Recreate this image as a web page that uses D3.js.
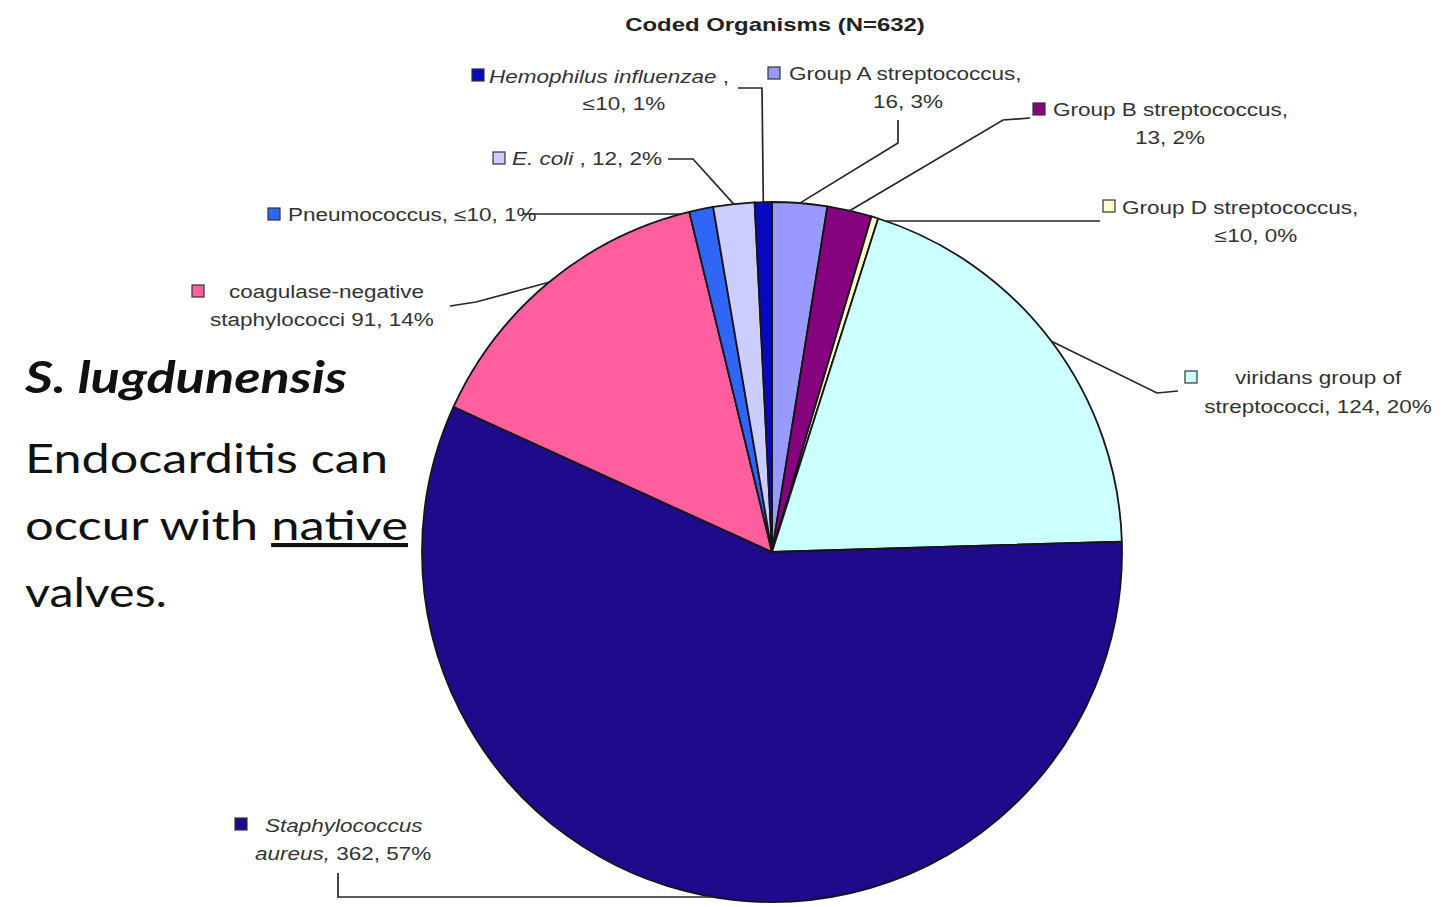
<!DOCTYPE html>
<html>
<head>
<meta charset="utf-8">
<script src="https://cdn.jsdelivr.net/npm/d3@7"></script>
<style>
  body { margin: 0; background: #fff; }
  svg { display: block; }
</style>
</head>
<body>
<svg id="chart" width="1448" height="907"></svg>
<script>
// Organism groups, clockwise from 12 o'clock
const organisms = [
  "Group A streptococcus", "Group B streptococcus", "Group D streptococcus",
  "viridans group of streptococci", "Staphylococcus aureus",
  "coagulase-negative staphylococci", "Pneumococcus", "E. coli",
  "Hemophilus influenzae"
];
const counts = [16, 13, 2, 124, 362, 91, 7, 12, 5];
const countLabels = ["16", "13", "≤10", "124", "362", "91", "≤10", "12", "≤10"];
const sliceColors = [
  "#9999ff", "#86037f", "#ffffcc", "#ccffff", "#1f0a8c",
  "#ff5f9e", "#2f66f5", "#ccccff", "#0808c0"
];
const totalN = 632;

const W = 1448, H = 907;
const cx = 772, cy = 552, R = 350;
const SX = 1.25;           // horizontal stretch of label text
const labelFont = "'Liberation Sans', Arial, sans-serif";

const svg = d3.select("#chart");
svg.append("rect").attr("width", W).attr("height", H).attr("fill", "#fff");

const data = organisms.map((name, i) => ({
  name, count: counts[i], countLabel: countLabels[i], color: sliceColors[i],
  pct: Math.round(counts[i] / totalN * 100) + "%"
}));

const pie = d3.pie().sort(null).value(d => d.count)
  .startAngle(0).endAngle(2 * Math.PI);
const arcs = pie(data);
const arc = d3.arc().innerRadius(0).outerRadius(R);

const pieG = svg.append("g").attr("transform", `translate(${cx},${cy})`);
pieG.selectAll("path").data(arcs).join("path")
  .attr("d", arc)
  .attr("fill", d => d.data.color)
  .attr("stroke", "#151515")
  .attr("stroke-width", 1.8)
  .attr("stroke-linejoin", "round");

// point on the rim at the middle of a slice
function rimPoint(a) {
  const m = (a.startAngle + a.endAngle) / 2;
  return [cx + R * Math.sin(m), cy - R * Math.cos(m)];
}
// point on the rim at a given height, on the side of the slice middle
function rimAtY(a, y) {
  const m = (a.startAngle + a.endAngle) / 2;
  const dx = Math.sqrt(R * R - (y - cy) * (y - cy));
  return [cx + (Math.sin(m) < 0 ? -dx : dx), y];
}

// Label layout: marker, text lines (with italic runs) and leader elbows
const labelLayout = [
  { marker: [768, 67], lines: [
      { x: 789, y: 80, anchor: "start", parts: [["Group A streptococcus,"]] },
      { x: 908, y: 108, anchor: "middle", parts: [["{n}, {p}"]] } ],
    leader: [[898, 120], [898, 143]] },
  { marker: [1033, 103], lines: [
      { x: 1053, y: 116, anchor: "start", parts: [["Group B streptococcus,"]] },
      { x: 1170, y: 144, anchor: "middle", parts: [["{n}, {p}"]] } ],
    leader: [[1030, 118], [1003, 120]] },
  { marker: [1103, 200], lines: [
      { x: 1122, y: 214, anchor: "start", parts: [["Group D streptococcus,"]] },
      { x: 1256, y: 242, anchor: "middle", parts: [["{n}, {p}"]] } ],
    leader: [[1100, 221]], flatY: 221 },
  { marker: [1185, 371], lines: [
      { x: 1235, y: 384, anchor: "start", parts: [["viridans group of"]] },
      { x: 1318, y: 413, anchor: "middle", parts: [["streptococci, {n}, {p}"]] } ],
    leader: [[1178, 391], [1157, 393]] },
  { marker: [235, 818], lines: [
      { x: 265, y: 832, anchor: "start", parts: [["Staphylococcus", true]] },
      { x: 255, y: 860, anchor: "start", parts: [["aureus,", true], [" {n}, {p}"]] } ],
    leader: [[338, 873], [338, 897]], flatY: 897 },
  { marker: [192, 285], lines: [
      { x: 229, y: 298, anchor: "start", parts: [["coagulase-negative"]] },
      { x: 210, y: 326, anchor: "start", parts: [["staphylococci  {n}, {p}"]] } ],
    leader: [[450, 306], [476, 302]] },
  { marker: [268, 208], lines: [
      { x: 288, y: 221, anchor: "start", parts: [["Pneumococcus, {n}, {p}"]] } ],
    leader: [[522, 214]], flatY: 214 },
  { marker: [493, 152], lines: [
      { x: 512, y: 165, anchor: "start", parts: [["E. coli", true], [" , {n}, {p}"]] } ],
    leader: [[668, 159], [693, 159]] },
  { marker: [472, 69], lines: [
      { x: 489, y: 83, anchor: "start", parts: [["Hemophilus influenzae", true], [" ,"]] },
      { x: 624, y: 110, anchor: "middle", parts: [["{n}, {p}"]] } ],
    leader: [[738, 88], [762, 88]] }
];

const leaderG = svg.append("g");
const labelG = svg.append("g");
const line = d3.line();

arcs.forEach((a, i) => {
  const L = labelLayout[i];
  const d = a.data;
  const end = L.flatY !== undefined ? rimAtY(a, L.flatY) : rimPoint(a);
  const pts = L.leader.concat([end]);
  leaderG.append("path")
    .attr("d", line(pts))
    .attr("fill", "none")
    .attr("stroke", "#262626")
    .attr("stroke-width", 1.7);

  labelG.append("rect")
    .attr("x", L.marker[0]).attr("y", L.marker[1])
    .attr("width", 12).attr("height", 12)
    .attr("fill", d.color)
    .attr("stroke", "#333").attr("stroke-width", 1.2);

  L.lines.forEach(ln => {
    const t = labelG.append("g")
      .attr("transform", `translate(${ln.x},${ln.y}) scale(${SX},1)`)
      .append("text")
      .attr("text-anchor", ln.anchor)
      .attr("font-family", labelFont)
      .attr("font-size", 18)
      .attr("fill", "#333");
    ln.parts.forEach(([s, it]) => {
      t.append("tspan")
        .attr("font-style", it ? "italic" : "normal")
        .text(s.replace("{n}", d.countLabel).replace("{p}", d.pct));
    });
  });
});

// Title
svg.append("g")
  .attr("transform", `translate(775,31) scale(1.33,1)`)
  .append("text")
  .attr("text-anchor", "middle")
  .attr("font-family", labelFont)
  .attr("font-weight", "bold")
  .attr("font-size", 18)
  .attr("fill", "#222")
  .text("Coded Organisms (N=632)");

// Side note
const noteFont = "Lato, 'Open Sans', sans-serif";
const note = svg.append("g").attr("fill", "#111").attr("font-family", noteFont);
note.append("text")
  .attr("x", 25).attr("y", 393)
  .attr("font-size", 43).attr("font-weight", "bold").attr("font-style", "italic")
  .attr("textLength", 322).attr("lengthAdjust", "spacingAndGlyphs")
  .text("S. lugdunensis");
note.append("text")
  .attr("x", 25).attr("y", 473)
  .attr("font-size", 41)
  .attr("textLength", 363).attr("lengthAdjust", "spacingAndGlyphs")
  .text("Endocarditis can");
const occ = note.append("text")
  .attr("x", 25).attr("y", 540)
  .attr("font-size", 41)
  .attr("textLength", 383).attr("lengthAdjust", "spacingAndGlyphs");
occ.append("tspan").text("occur with ");
occ.append("tspan").attr("text-decoration", "underline").text("native");
note.append("text")
  .attr("x", 25).attr("y", 607)
  .attr("font-size", 41)
  .attr("textLength", 142).attr("lengthAdjust", "spacingAndGlyphs")
  .text("valves.");
</script>
</body>
</html>
